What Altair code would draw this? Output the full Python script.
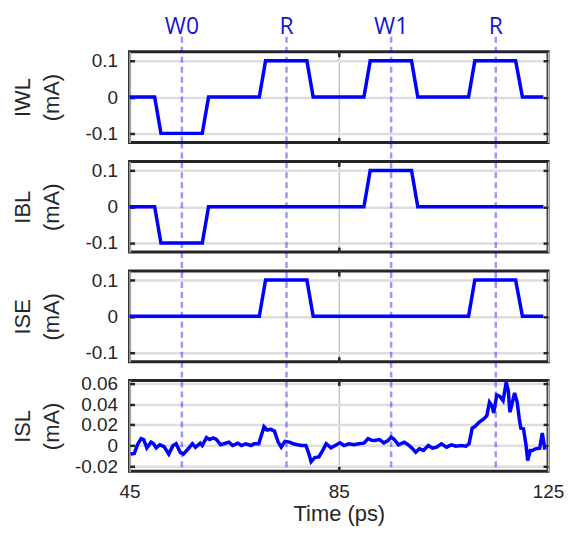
import altair as alt
import pandas as pd

# ---------------- data ----------------
iwl_t = [45, 49.8, 51.0, 58.9, 60.1, 69.8, 71.0, 78.9, 80.1, 89.8, 91.0, 98.9, 100.1, 109.8, 111.0, 118.8, 120.1, 124.1]
iwl_v = [0, 0, -0.1, -0.1, 0, 0, 0.1, 0.1, 0, 0, 0.1, 0.1, 0, 0, 0.1, 0.1, 0, 0]

ibl_t = [45, 49.8, 51.0, 58.9, 60.1, 89.8, 91.0, 98.9, 100.1, 124.1]
ibl_v = [0, 0, -0.1, -0.1, 0, 0, 0.1, 0.1, 0, 0]

ise_t = [45, 69.8, 71.0, 78.9, 80.1, 109.8, 111.0, 118.8, 120.1, 124.1]
ise_v = [0, 0, 0.1, 0.1, 0, 0, 0.1, 0.1, 0, 0]

isl_t = [45.2, 45.9, 46.6, 47.2, 47.7, 48.3, 49.1, 49.6, 50.1, 50.8,
         51.6, 52.5, 53.3, 53.9, 54.7, 55.3, 56.3, 57.0, 57.6, 58.5,
         58.9, 59.7, 60.3, 61.0, 61.6, 62.4, 63.0, 64.0, 64.7, 65.7,
         66.4, 67.2, 68.2, 68.8, 69.7, 70.7, 71.3, 72.0, 72.7, 73.4,
         74.0, 74.7, 75.6, 76.3, 77.1, 77.9, 78.7, 79.3, 79.7, 80.4,
         81.2, 81.9, 82.6, 83.5, 84.3, 85.2, 86.0, 86.9, 87.9, 88.8,
         89.8, 90.6, 91.3,
         91.9, 92.8, 93.6, 94.4, 95.0, 95.6, 96.4, 97.5, 98.3, 99.0,
         99.7, 100.4, 101.2, 102.1, 102.9, 103.7, 104.6, 105.6, 106.5, 107.4,
         108.4, 109.3, 109.9, 110.5, 111.1, 111.8, 112.7, 113.3, 113.8, 114.3,
         114.6, 115.2, 115.8, 116.4, 117.0, 117.4, 117.7, 118.1, 118.6, 119.1,
         119.5, 119.8, 120.3, 120.8, 121.1, 121.6, 122.0, 122.6, 123.4, 123.9,
         124.4]
isl_v = [-0.0083, -0.0077, 0.0017, 0.0067, 0.0057, -0.0023, 0.0033, 0.0017, -0.0023, 0.0007,
         -0.001, -0.0083, 0.0, 0.0017, -0.0067, -0.0083, -0.0027, 0.0017, -0.0017, 0.0023,
         0.0, 0.0077, 0.0057, 0.0073, 0.006, 0.0007, 0.0017, 0.0033, 0.0, 0.0023,
         0.0, 0.0017, 0.0, 0.0017, 0.0017, 0.0183, 0.015, 0.0157, 0.014, 0.0033,
         -0.0017, 0.004, 0.0033, 0.0017, 0.0007, 0.0, 0.0, -0.0083, -0.0157, -0.0117,
         -0.011, -0.005, 0.0017, -0.0023, 0.0, 0.0027, 0.0, 0.0017, 0.0007, 0.0017,
         0.0023, 0.0067, 0.005,
         0.0048, 0.0058, 0.0026, 0.0048, 0.0081, 0.0058, 0.0006, 0.0032, 0.0006, -0.0026,
         -0.0065, -0.0032, -0.0048, 0.0, -0.0026, -0.0016, 0.0016, -0.0016, 0.0006, -0.0006,
         0.0, -0.0006, 0.0016, 0.0168, 0.0187, 0.0226, 0.0258, 0.029, 0.0419, 0.0381,
         0.0316, 0.049, 0.0477, 0.0435, 0.0613, 0.0532, 0.0323, 0.0403, 0.0511, 0.0419,
         0.0258, 0.0168, 0.0161, 0.0, -0.0145, -0.0048, -0.0048, -0.0032, -0.0026, 0.012,
         -0.004]

marker_t = [55, 75, 95, 115]
marker_lbl = ["W0", "R", "W1", "R"]

x_ticks = [45, 85, 125]
pulse_ticks = [-0.1, 0, 0.1]
isl_ticks = [-0.02, 0, 0.02, 0.04, 0.06]

# ---------------- styling ----------------
W, H = 420, 91
GAP = 19
DARK = "#262626"
LINE_BLUE = "#0000ff"
FONT = "Liberation Sans"

markers = pd.DataFrame({"t": marker_t, "lbl": marker_lbl})
xscale = alt.Scale(domain=[45, 125], nice=False, zero=False)


def label_expr(dec):
    return ("datum.value == 0 ? '0' : (datum.value < 0 ? '-' : '') + format(abs(datum.value), '.%df')" % dec)


def panel(t, v, name, ydomain, yticks, dec, show_x, show_markers):
    df = pd.DataFrame({"t": t, "v": v})
    yscale = alt.Scale(domain=ydomain, nice=False, zero=False)

    x_main = alt.X("t:Q", scale=xscale, axis=alt.Axis(
        orient="bottom", values=x_ticks, grid=True, gridColor="#c4c4c4", gridWidth=1.5,
        ticks=False, tickSize=0, domain=False, labels=show_x, labelFlush=False,
        labelPadding=11, labelFontSize=19, labelColor=DARK, labelFont=FONT,
        title="Time (ps)" if show_x else None, titleFontSize=22, titleFont=FONT,
        titleColor=DARK, titleFontWeight="normal", titlePadding=2))
    y_main = alt.Y("v:Q", scale=yscale, axis=alt.Axis(
        orient="left", values=yticks, grid=True, gridColor="#dedede", gridWidth=2.5,
        ticks=False, tickSize=0, domain=False, labelPadding=12, labelFontSize=19,
        labelColor=DARK, labelFont=FONT, labelExpr=label_expr(dec), labelOverlap=False,
        title=[name, "(mA)"], titleFontSize=22, titleFont=FONT, titleColor=DARK,
        titleFontWeight="normal", titleX=-100, titleY=H / 2, titleAngle=270,
        titleAlign="center", titleBaseline="alphabetic", titleLineHeight=29))

    main = alt.Chart(df).mark_line(color=LINE_BLUE, strokeWidth=3.5, strokeJoin="miter").encode(
        x=x_main, y=y_main)

    def tick_axis(orient, vals):
        return alt.Axis(orient=orient, values=vals, grid=False, domain=False, labels=False,
                        ticks=True, tickSize=5, tickWidth=2.5, tickColor=DARK, offset=-5,
                        title=None)

    ghost1 = alt.Chart(df).mark_line(strokeOpacity=0).encode(
        x=alt.X("t:Q", scale=xscale, axis=tick_axis("bottom", [85])),
        y=alt.Y("v:Q", scale=yscale, axis=tick_axis("left", yticks)))
    ghost2 = alt.Chart(df).mark_line(strokeOpacity=0).encode(
        x=alt.X("t:Q", scale=xscale, axis=tick_axis("top", [85])),
        y=alt.Y("v:Q", scale=yscale, axis=tick_axis("right", yticks)))

    rule_top = -15 if show_markers else -GAP
    rules = alt.Chart(markers).mark_rule(
        color=LINE_BLUE, opacity=0.4, strokeWidth=2.5, strokeDash=[6, 4]).encode(
        x=alt.X("t:Q", scale=xscale, axis=None),
        y=alt.value(rule_top), y2=alt.value(H))

    layers = [main, ghost1, ghost2, rules]
    if show_markers:
        text = alt.Chart(markers).mark_text(
            fontSize=23, font="Open Sans", color="#1414d2", baseline="alphabetic",
            align="center").encode(
            x=alt.X("t:Q", scale=xscale, axis=None), y=alt.value(-18), text="lbl:N")
        layers.append(text)

    return alt.layer(*layers).resolve_axis(x="independent", y="independent").properties(
        width=W, height=H)


p1 = panel(iwl_t, iwl_v, "IWL", [-0.125, 0.125], pulse_ticks, 1, False, True)
p2 = panel(ibl_t, ibl_v, "IBL", [-0.125, 0.125], pulse_ticks, 1, False, False)
p3 = panel(ise_t, ise_v, "ISE", [-0.125, 0.125], pulse_ticks, 1, False, False)
p4 = panel(isl_t, isl_v, "ISL", [-0.025, 0.063], isl_ticks, 2, True, False)

chart = alt.vconcat(p1, p2, p3, p4, spacing=GAP, bounds="flush").properties(
    padding={"left": 2, "top": 5, "right": 0, "bottom": 0},
    background="white",
).configure_view(stroke=DARK, strokeWidth=3)

chart.save("out.html", embed_options={"renderer": "svg", "actions": False})
